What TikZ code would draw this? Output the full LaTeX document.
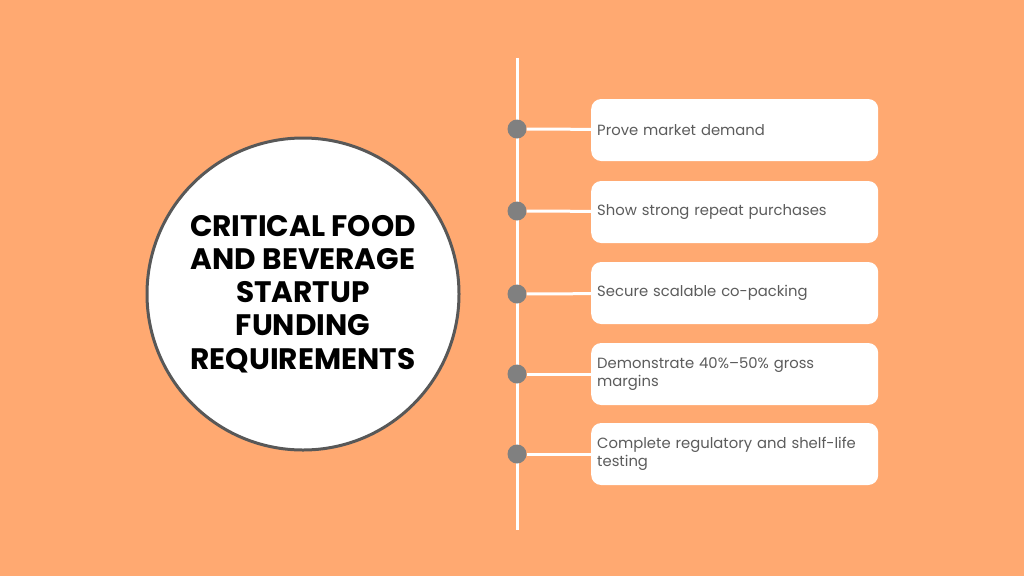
\documentclass[tikz,border=0pt]{standalone}
\usepackage{fontspec}
\setmainfont{Poppins}
\usetikzlibrary{positioning}
\definecolor{bgorange}{RGB}{255, 169, 113}
\definecolor{rimgray}{RGB}{88, 88, 88}
\definecolor{dotgray}{RGB}{128, 128, 128}
\definecolor{labeltext}{RGB}{92, 92, 92}

\begin{document}
\begin{tikzpicture}[
    x=1pt, y=-1pt,
    card/.style={rectangle, fill=white, rounded corners=10pt, anchor=west,
                minimum width=287pt, minimum height=62pt, text width=275pt,
                inner xsep=6pt, align=left, text=labeltext,
                font=\fontsize{14.8}{18}\selectfont},
    bullet/.style={circle, fill=dotgray, minimum size=19pt, inner sep=0pt},
    link/.style={white, line width=3pt}
]

% Background
\fill[bgorange] (0,0) rectangle (1024,576);

% Title circle
\node[circle, fill=white, draw=rimgray, line width=3pt, minimum size=312pt,
      inner sep=0pt, align=center, font=\fontsize{29.6}{33.2}\selectfont\bfseries]
      (title) at (303,294) {CRITICAL FOOD\\AND BEVERAGE\\STARTUP\\FUNDING\\REQUIREMENTS};

% Timeline
\coordinate (top) at (517,58);
\coordinate (bottom) at (517,530);
\draw[link] (top) -- (bottom);

% Cards
\node[card] (demand) at (591,130) {Prove market demand};
\node[card] (repeat) at (591,212) {Show strong repeat purchases};
\node[card] (copack) at (591,293) {Secure scalable co-packing};
\node[card] (margin) at (591,374) {Demonstrate 40\%\textendash50\% gross\\margins};
\node[card] (testing) at (591,454) {Complete regulatory and shelf-life\\testing};

% Bullets
\node[bullet] (b1) at (517,129) {};
\node[bullet] (b2) at (517,211) {};
\node[bullet] (b3) at (517,294) {};
\node[bullet] (b4) at (517,374) {};
\node[bullet] (b5) at (517,454) {};

% Links
\draw[link] (b1) -- (demand);
\draw[link] (b2) -- (repeat);
\draw[link] (b3) -- (copack);
\draw[link] (b4) -- (margin);
\draw[link] (b5) -- (testing);

\end{tikzpicture}
\end{document}
